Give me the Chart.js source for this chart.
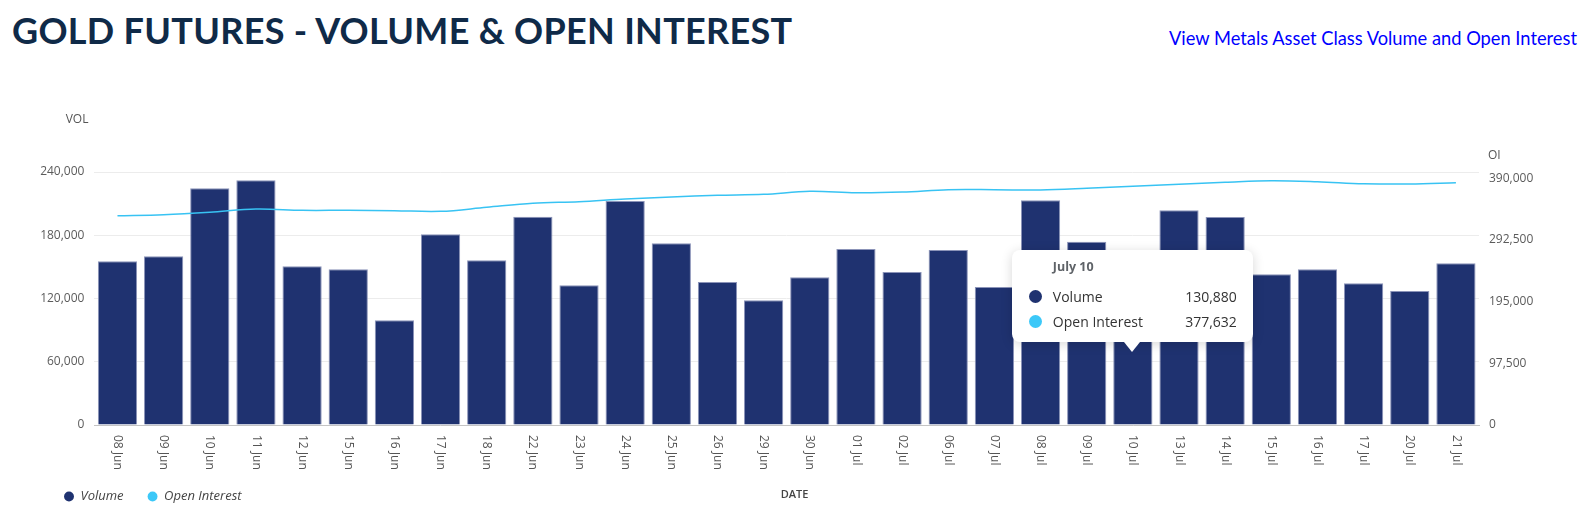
<!DOCTYPE html>
<html>
<head>
<meta charset="utf-8">
<title>Gold Futures - Volume &amp; Open Interest</title>
<script src="https://cdn.jsdelivr.net/npm/chart.js@4.4.1/dist/chart.umd.min.js"></script>
<style>
  html, body { margin: 0; overflow: hidden; }
  body { width: 1585px; height: 505px; background: #fff; font-family: 'Open Sans', sans-serif; position: relative; }
  h1 { position: absolute; left: 12px; top: 12px; margin: 0; font: 700 36px/1 Lato, sans-serif; color: #0f2a48; letter-spacing: 0.3px; white-space: nowrap; }
  a.metals { position: absolute; right: 8px; top: 29px; font: 18.3px/1 Lato, sans-serif; color: #0000ff; text-decoration: none; white-space: nowrap; }
  #wrap { position: absolute; left: 0; top: 100px; width: 1585px; height: 405px; overflow: hidden; }
  #wrap canvas { display: block; }
  #tip { position: absolute; display: none; width: 241px; height: 92px; box-sizing: border-box; background: #fff;
         border-radius: 8px; box-shadow: 0 2px 12px rgba(0,0,0,0.16); color: #333; font-size: 14px; pointer-events: none; }
  #tip::after { content: ''; position: absolute; left: 112px; bottom: -10px; border-left: 8px solid transparent;
                border-right: 8px solid transparent; border-top: 10px solid #fff; }
  #tip .t { position: absolute; left: 41px; top: 8px; font-weight: 700; font-size: 12.5px; color: #5f6368; }
  #tip .row { position: absolute; left: 0; right: 16px; height: 20px; line-height: 20px; }
  #tip .dot { position: absolute; left: 17px; top: 3px; width: 13px; height: 13px; border-radius: 50%; }
  #tip .lab { position: absolute; left: 41px; }
  #tip .val { position: absolute; right: 0; }
</style>
</head>
<body>
<h1>GOLD FUTURES - VOLUME &amp; OPEN INTEREST</h1>
<a class="metals" href="#">View Metals Asset Class Volume and Open Interest</a>
<div id="wrap">
  <canvas id="volOiChart" width="1585" height="405"></canvas>
  <div id="tip"></div>
</div>
<script>
// trading days shown on the x axis
const dates = ['08 Jun', '09 Jun', '10 Jun', '11 Jun', '12 Jun', '15 Jun', '16 Jun', '17 Jun', '18 Jun', '22 Jun',
               '23 Jun', '24 Jun', '25 Jun', '26 Jun', '29 Jun', '30 Jun', '01 Jul', '02 Jul', '06 Jul', '07 Jul',
               '08 Jul', '09 Jul', '10 Jul', '13 Jul', '14 Jul', '15 Jul', '16 Jul', '17 Jul', '20 Jul', '21 Jul'];

// daily volume (left axis)
const volume = [155300, 160000, 224500, 232100, 150500, 147700, 99300, 180900, 156200, 197600,
                132500, 212500, 172300, 135600, 118300, 140100, 167000, 145100, 166000, 130900,
                213100, 173900, 130880, 203600, 197300, 143000, 147700, 134400, 127100, 153400];

// open interest (right axis)
const openInterest = [330900, 332500, 336300, 341500, 339400, 339400, 338800, 337800, 344200, 350500,
                      353000, 357300, 360500, 363100, 364700, 369500, 367300, 368400, 372000, 372000,
                      371500, 374200, 377632, 380500, 383700, 386300, 384700, 381500, 381000, 383100];

// tick labels
const volTicks = [0, 60000, 120000, 180000, 240000];
const oiTicks = [0, 97500, 195000, 292500, 390000];

// the day the tooltip is shown for
const tipIndex = 22;

const monthNames = { Jun: 'June', Jul: 'July' };

function longDate(label) {
    const parts = label.split(' ');
    return monthNames[parts[1]] + ' ' + parseInt(parts[0], 10);
}

function fmt(v) {
    return Number(v).toLocaleString('en-US');
}

// tooltip follows the pointer position
Chart.Tooltip.positioners.pointer = function(items, eventPosition) {
    return { x: eventPosition.x, y: eventPosition.y };
};

function externalTooltip(context) {
    const tooltip = context.tooltip;
    const el = document.getElementById('tip');
    if (tooltip.opacity === 0) {
        el.style.display = 'none';
        return;
    }
    let html = '<div class="t">' + tooltip.title[0] + '</div>';
    tooltip.dataPoints.forEach((p, n) => {
        html += '<div class="row" style="top:' + (37 + n * 25) + 'px">' +
                '<span class="dot" style="background:' + p.dataset.legendColor + '"></span>' +
                '<span class="lab">' + p.dataset.label + '</span>' +
                '<span class="val">' + fmt(p.raw) + '</span></div>';
    });
    el.innerHTML = html;
    el.style.display = 'block';
    el.style.left = (tooltip.caretX - 121) + 'px';
    el.style.top = (tooltip.caretY - 10 - 92) + 'px';
}

// rotated date labels, axis names and the DATE caption
const axisText = {
    id: 'axisText',
    afterLayout(chart) {
        // legend sits under the plot, starting left of the volume axis
        const lg = chart.legend;
        lg.left += 20;
        lg.right += 20;
        lg.top += 8;
        lg.bottom += 8;
    },
    afterDraw(chart) {
        const { ctx, chartArea, scales } = chart;
        ctx.save();
        ctx.fillStyle = '#555';
        ctx.font = '12px "Open Sans"';
        ctx.textBaseline = 'middle';
        ctx.textAlign = 'left';
        dates.forEach((d, i) => {
            const x = scales.x.getPixelForTick(i);
            ctx.save();
            ctx.translate(x, chartArea.bottom + 10);
            ctx.rotate(Math.PI / 2);
            ctx.fillText(d, 0, 0);
            ctx.restore();
        });
        ctx.font = '12px "Open Sans"';
        ctx.textAlign = 'right';
        ctx.fillText('VOL', scales.y.right - 6, chartArea.top - 52);
        ctx.textAlign = 'left';
        ctx.fillText('OI', scales.y1.left + 9, chartArea.top - 16);
        ctx.font = '600 11px "Open Sans"';
        ctx.fillStyle = '#444';
        ctx.textAlign = 'center';
        ctx.fillText('DATE', chart.width / 2 + 2, chartArea.bottom + 70);
        ctx.restore();
    }
};

document.addEventListener('DOMContentLoaded', function() {
    const canvas = document.getElementById('volOiChart').getContext('2d');

    const chart = new Chart(canvas, {
        type: 'bar',
        data: {
            labels: dates,
            datasets: [{
                label: 'Volume',
                data: volume,
                backgroundColor: '#1f3270',
                borderColor: '#8b93b8',
                borderWidth: 1,
                legendColor: '#1f3270',
                categoryPercentage: 1.0,
                barPercentage: 0.85,
                yAxisID: 'y',
                order: 1
            }, {
                type: 'line',
                label: 'Open Interest',
                data: openInterest,
                borderColor: '#38c3f3',
                backgroundColor: '#3cc8f8',
                legendColor: '#3cc8f8',
                borderWidth: 1.5,
                pointRadius: 0,
                tension: 0.35,
                yAxisID: 'y1',
                order: 0
            }]
        },
        options: {
            responsive: false,
            animation: false,
            events: [],
            layout: { padding: { left: 20, right: 0, top: 72, bottom: 0 } },
            scales: {
                x: {
                    grid: { display: false },
                    border: { display: true, color: '#c4c4c4', width: 1 },
                    ticks: { display: false },
                    afterFit(scale) { scale.height = 33; }
                },
                y: {
                    position: 'left',
                    min: 0,
                    max: 240000,
                    afterBuildTicks(scale) { scale.ticks = volTicks.map(v => ({ value: v })); },
                    grid: { color: '#ececec', lineWidth: 1, drawTicks: false },
                    border: { display: false },
                    ticks: {
                        padding: 10,
                        color: '#5b5b5b',
                        font: { family: 'Open Sans', size: 12 },
                        callback: v => fmt(v)
                    },
                    afterFit(scale) { scale.width = 74.4; }
                },
                y1: {
                    position: 'right',
                    min: 0,
                    max: 400000,
                    afterBuildTicks(scale) { scale.ticks = oiTicks.map(v => ({ value: v })); },
                    grid: { drawOnChartArea: false, drawTicks: false },
                    border: { display: false },
                    ticks: {
                        padding: 10,
                        color: '#5b5b5b',
                        font: { family: 'Open Sans', size: 12 },
                        callback: v => fmt(v)
                    },
                    afterFit(scale) { scale.width = 106; }
                }
            },
            plugins: {
                legend: {
                    position: 'bottom',
                    align: 'start',
                    labels: {
                        usePointStyle: true,
                        pointStyle: 'circle',
                        boxWidth: 10,
                        boxHeight: 7,
                        padding: 24,
                        color: '#444',
                        font: { family: 'Open Sans', size: 13, style: 'italic' },
                        sort: (a, b) => a.datasetIndex - b.datasetIndex,
                        generateLabels(c) {
                            const items = Chart.defaults.plugins.legend.labels.generateLabels(c);
                            items.forEach(it => {
                                it.fillStyle = c.data.datasets[it.datasetIndex].legendColor;
                                it.lineWidth = 0;
                            });
                            return items;
                        }
                    }
                },
                tooltip: {
                    enabled: false,
                    position: 'pointer',
                    external: externalTooltip,
                    callbacks: {
                        title: items => longDate(dates[items[0].dataIndex])
                    }
                }
            }
        },
        plugins: [axisText]
    });

    // show the day's values as in the snapshot
    const px = chart.scales.x.getPixelForTick(tipIndex);
    const py = chart.chartArea.bottom - 73;
    chart.tooltip.setActiveElements([
        { datasetIndex: 0, index: tipIndex },
        { datasetIndex: 1, index: tipIndex }
    ], { x: px, y: py });
    chart.update();
});
</script>
</body>
</html>
